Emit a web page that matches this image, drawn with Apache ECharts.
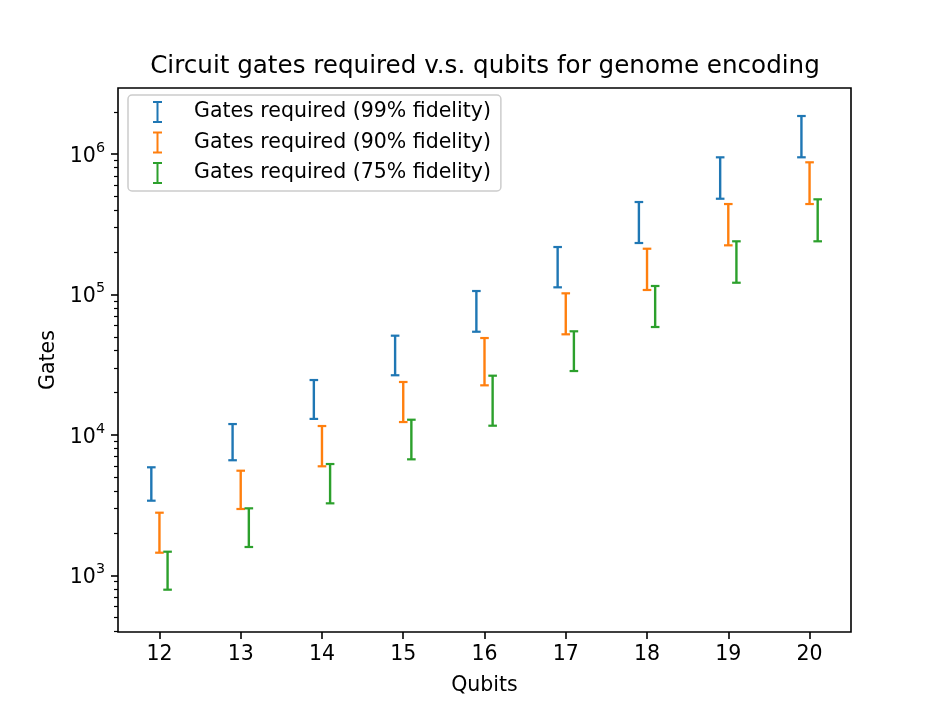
<!DOCTYPE html>
<html>
<head>
<meta charset="utf-8">
<script src="https://cdn.jsdelivr.net/npm/echarts@6/dist/echarts.min.js"></script>
<style>
html,body{margin:0;padding:0;background:#fff;}
#chart{width:946px;height:710px;}
</style>
</head>
<body>
<div id="chart"></div>
<script>
// ---- data ----
const qubits = [12, 13, 14, 15, 16, 17, 18, 19, 20];
const gates99Low  = [3400, 6600, 13000, 26600, 54300, 112500, 232700, 481000, 949000];
const gates99High = [5880, 11950, 24600, 50900, 105900, 217900, 455800, 948700, 1868000];
const gates90Low  = [1449, 2967, 5976, 12350, 22550, 52060, 107700, 224000, 441000];
const gates90High = [2792, 5560, 11570, 23820, 48980, 101970, 211900, 441000, 874200];
const gates75Low  = [790, 1591, 3256, 6700, 11630, 28510, 58680, 121300, 239300];
const gates75High = [1473, 3000, 6204, 12830, 26410, 54700, 115000, 239300, 476400];
const seriesNames = ['Gates required (99% fidelity)', 'Gates required (90% fidelity)', 'Gates required (75% fidelity)'];
const yMajorTicks = [1e3, 1e4, 1e5, 1e6];
const yMinorTicks = [400, 500, 600, 700, 800, 900,
  2000, 3000, 4000, 5000, 6000, 7000, 8000, 9000,
  20000, 30000, 40000, 50000, 60000, 70000, 80000, 90000,
  200000, 300000, 400000, 500000, 600000, 700000, 800000, 900000,
  2000000];

const colors = ['#1f77b4', '#ff7f0e', '#2ca02c'];
const offsets = [-0.1, 0, 0.1];
const lows = [gates99Low, gates90Low, gates75Low];
const highs = [gates99High, gates90High, gates75High];

const FONT = 'DejaVu Sans';

function makeRender(color) {
  return function (params, api) {
    const x = api.value(0);
    const lo = api.coord([x, api.value(1)]);
    const hi = api.coord([x, api.value(2)]);
    const cw = 4.3;
    const st = { stroke: color, lineWidth: 2.4 };
    const cs = { stroke: color, lineWidth: 2.2 };
    return {
      type: 'group',
      children: [
        { type: 'line', shape: { x1: lo[0], y1: lo[1], x2: hi[0], y2: hi[1] }, style: st },
        { type: 'line', shape: { x1: lo[0] - cw, y1: lo[1], x2: lo[0] + cw, y2: lo[1] }, style: cs },
        { type: 'line', shape: { x1: hi[0] - cw, y1: hi[1], x2: hi[0] + cw, y2: hi[1] }, style: cs }
      ]
    };
  };
}

const series = seriesNames.map((name, i) => ({
  type: 'custom',
  name: name,
  renderItem: makeRender(colors[i]),
  itemStyle: { color: colors[i] },
  encode: { x: 0, y: [1, 2] },
  data: qubits.map((q, k) => [q + offsets[i], lows[i][k], highs[i][k]]),
  clip: false
}));

const iconPath = 'path://M0,0H9V2H5.5V20H9V22H0V20H3.5V2H0Z';

const chart = echarts.init(document.getElementById('chart'), null, { renderer: 'canvas' });
chart.setOption({
  animation: false,
  backgroundColor: '#ffffff',
  textStyle: { fontFamily: FONT },
  title: {
    text: 'Circuit gates required v.s. qubits for genome encoding',
    left: 480,
    textAlign: 'center',
    top: 49,
    textStyle: { fontFamily: FONT, fontSize: 24.6, fontWeight: 'normal', color: '#000' }
  },
  legend: {
    orient: 'vertical',
    left: 128,
    top: 95,
    align: 'left',
    padding: [6, 10, 7, 25],
    itemWidth: 9,
    itemHeight: 22,
    itemGap: 8.5,
    backgroundColor: 'rgba(255,255,255,0.8)',
    borderColor: '#cccccc',
    borderWidth: 1.5,
    borderRadius: 4,
    textStyle: { fontFamily: FONT, fontSize: 20.5, color: '#000', padding: [0, 0, 0, 27] },
    data: seriesNames.map((n) => ({ name: n, icon: iconPath }))
  },
  grid: {
    left: 118, right: 95, top: 88, bottom: 78,
    show: true, borderColor: '#000', borderWidth: 1.6, backgroundColor: 'transparent',
    outerBoundsMode: 'none'
  },
  xAxis: {
    type: 'value',
    min: 11.49,
    max: 20.51,
    name: 'Qubits',
    nameLocation: 'middle',
    nameGap: 43,
    nameTextStyle: { fontFamily: FONT, fontSize: 20.5, color: '#000' },
    axisLine: { show: false },
    splitLine: { show: false },
    axisTick: { show: true, customValues: qubits, length: 7, lineStyle: { color: '#000', width: 1.6 } },
    axisLabel: { customValues: qubits, margin: 12, fontFamily: FONT, fontSize: 20.5, color: '#000' }
  },
  yAxis: [{
    type: 'log',
    logBase: 10,
    min: 394.7,
    max: 2957000,
    name: 'Gates',
    nameLocation: 'middle',
    nameGap: 58,
    nameTextStyle: { fontFamily: FONT, fontSize: 20.5, color: '#000' },
    axisLine: { show: false },
    splitLine: { show: false },
    axisTick: { show: true, customValues: yMajorTicks, length: 7, lineStyle: { color: '#000', width: 1.6 } },
    axisLabel: {
      customValues: yMajorTicks,
      margin: 13,
      color: '#000',
      formatter: function (v) { return '{a|10}{b|' + Math.round(Math.log10(v)) + '}'; },
      rich: {
        a: { fontFamily: FONT, fontSize: 20.5, color: '#000', lineHeight: 26, verticalAlign: 'bottom' },
        b: { fontFamily: FONT, fontSize: 14.3, color: '#000', lineHeight: 16, verticalAlign: 'top' }
      }
    }
  }, {
    type: 'log',
    logBase: 10,
    min: 394.7,
    max: 2957000,
    position: 'left',
    axisLine: { show: false },
    splitLine: { show: false },
    axisLabel: { show: false },
    axisTick: { show: true, customValues: yMinorTicks, length: 4, lineStyle: { color: '#000', width: 1.2 } }
  }],
  series: series
});
</script>
</body>
</html>
